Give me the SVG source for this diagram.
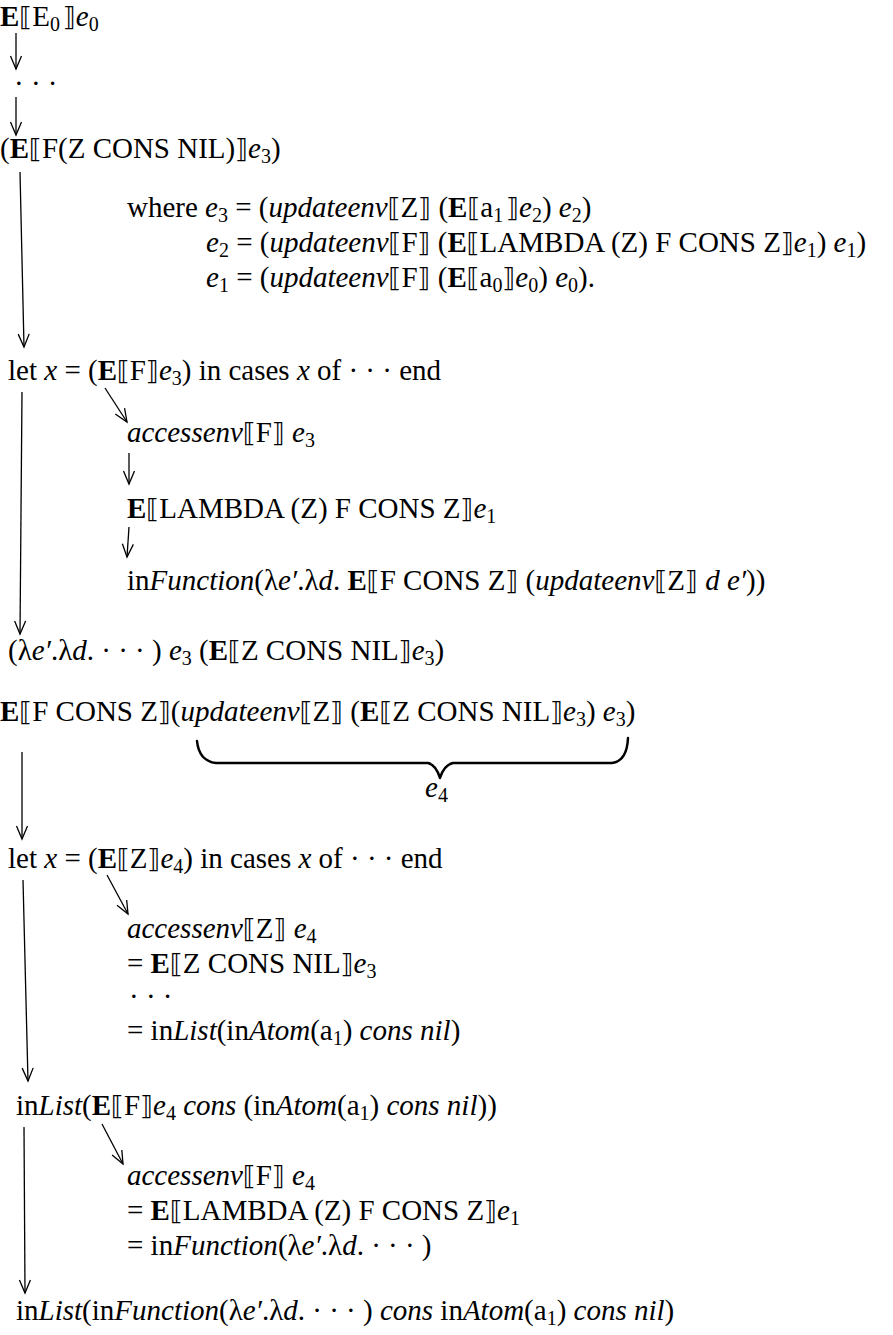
<svg xmlns="http://www.w3.org/2000/svg" width="893" height="1335" viewBox="0 0 893 1335">
<style>
text{font-family:"Liberation Serif","Times New Roman",serif;font-size:29px;fill:#000}
.b{font-weight:bold}
.i{font-style:italic}
.s{font-size:20px}
.k{font-family:"DejaVu Sans",sans-serif;font-size:26px;font-weight:normal;font-style:normal}
.ln{stroke:#000;stroke-width:1.3;fill:none}
.brace{stroke:#000;stroke-width:2.5;fill:none;stroke-linecap:round;stroke-linejoin:round}
</style>
<defs>
<marker id="ah" viewBox="-14 -7 16 14" refX="0" refY="0" markerWidth="16" markerHeight="14" markerUnits="userSpaceOnUse" orient="auto"><path d="M-13,-5.5 L0,0 L-13,5.5" fill="none" stroke="#000" stroke-width="1.3"/></marker>
</defs>
<rect width="893" height="1335" fill="#fff"/>

<g id="connectors">
<line class="ln" x1="16" y1="33" x2="16" y2="69" marker-end="url(#ah)"/>
<line class="ln" x1="16" y1="97" x2="16" y2="135" marker-end="url(#ah)"/>
<line class="ln" x1="20" y1="172" x2="24" y2="347" marker-end="url(#ah)"/>
<line class="ln" x1="105" y1="388" x2="127" y2="422" marker-end="url(#ah)"/>
<line class="ln" x1="129" y1="453" x2="129" y2="484" marker-end="url(#ah)"/>
<line class="ln" x1="129" y1="527" x2="127" y2="557" marker-end="url(#ah)"/>
<line class="ln" x1="22" y1="392" x2="20" y2="634" marker-end="url(#ah)"/>
<line class="ln" x1="22" y1="752" x2="22" y2="839" marker-end="url(#ah)"/>
<line class="ln" x1="107" y1="875" x2="128" y2="914" marker-end="url(#ah)"/>
<line class="ln" x1="23" y1="880" x2="28" y2="1081" marker-end="url(#ah)"/>
<line class="ln" x1="102" y1="1124" x2="123" y2="1164" marker-end="url(#ah)"/>
<line class="ln" x1="24" y1="1127" x2="25" y2="1293" marker-end="url(#ah)"/>
<path class="brace" d="M197,741 Q199,761 216,763 L428,763 Q436,765 440,778 Q444,765 453,763 L612,763 Q627,761 628,738"/>
</g>

<g id="n1"><text x="0" y="26"><tspan class="b">E</tspan><tspan class="k">⟦</tspan>E<tspan class="s" dy="5">0</tspan><tspan dy="-5" dx="3" class="k">⟧</tspan><tspan class="i">e</tspan><tspan class="s" dy="5">0</tspan></text></g>
<g id="n2"><text x="14" y="93">· · ·</text></g>
<g id="n3"><text x="0" y="158">(<tspan class="b">E</tspan><tspan class="k">⟦</tspan>F(Z CONS NIL)<tspan class="k">⟧</tspan><tspan class="i">e</tspan><tspan class="s" dy="5">3</tspan><tspan dy="-5">)</tspan></text></g>

<g id="where">
<text x="127" y="217">where <tspan class="i">e</tspan><tspan class="s" dy="5">3</tspan><tspan dy="-5"> = (</tspan><tspan class="i">updateenv</tspan><tspan class="k">⟦</tspan>Z<tspan class="k">⟧</tspan> (<tspan class="b">E</tspan><tspan class="k">⟦</tspan>a<tspan class="s" dy="5">1</tspan><tspan dy="-5" dx="3" class="k">⟧</tspan><tspan class="i">e</tspan><tspan class="s" dy="5">2</tspan><tspan dy="-5">) </tspan><tspan class="i">e</tspan><tspan class="s" dy="5">2</tspan><tspan dy="-5">)</tspan></text>
<text x="206" y="252"><tspan class="i">e</tspan><tspan class="s" dy="5">2</tspan><tspan dy="-5"> = (</tspan><tspan class="i">updateenv</tspan><tspan class="k">⟦</tspan>F<tspan class="k">⟧</tspan> (<tspan class="b">E</tspan><tspan class="k">⟦</tspan>LAMBDA (Z) F CONS Z<tspan class="k">⟧</tspan><tspan class="i">e</tspan><tspan class="s" dy="5">1</tspan><tspan dy="-5">) </tspan><tspan class="i">e</tspan><tspan class="s" dy="5">1</tspan><tspan dy="-5">)</tspan></text>
<text x="206" y="287"><tspan class="i">e</tspan><tspan class="s" dy="5">1</tspan><tspan dy="-5"> = (</tspan><tspan class="i">updateenv</tspan><tspan class="k">⟦</tspan>F<tspan class="k">⟧</tspan> (<tspan class="b">E</tspan><tspan class="k">⟦</tspan>a<tspan class="s" dy="5">0</tspan><tspan dy="-5" class="k">⟧</tspan><tspan class="i">e</tspan><tspan class="s" dy="5">0</tspan><tspan dy="-5">) </tspan><tspan class="i">e</tspan><tspan class="s" dy="5">0</tspan><tspan dy="-5">).</tspan></text>
</g>

<g id="n4"><text x="8" y="380">let <tspan class="i">x</tspan> = (<tspan class="b">E</tspan><tspan class="k">⟦</tspan>F<tspan class="k">⟧</tspan><tspan class="i">e</tspan><tspan class="s" dy="5">3</tspan><tspan dy="-5">) in cases </tspan><tspan class="i">x</tspan> of · · · end</text></g>
<g id="n5"><text x="127" y="442"><tspan class="i">accessenv</tspan><tspan class="k">⟦</tspan>F<tspan class="k">⟧</tspan> <tspan class="i">e</tspan><tspan class="s" dy="5">3</tspan></text></g>
<g id="n6"><text x="127" y="518"><tspan class="b">E</tspan><tspan class="k">⟦</tspan>LAMBDA (Z) F CONS Z<tspan class="k">⟧</tspan><tspan class="i">e</tspan><tspan class="s" dy="5">1</tspan></text></g>
<g id="n7"><text x="127" y="590">in<tspan class="i">Function</tspan>(λ<tspan class="i">e′</tspan>.λ<tspan class="i">d</tspan>. <tspan class="b">E</tspan><tspan class="k">⟦</tspan>F CONS Z<tspan class="k">⟧</tspan> (<tspan class="i">updateenv</tspan><tspan class="k">⟦</tspan>Z<tspan class="k">⟧</tspan> <tspan class="i">d e′</tspan>))</text></g>
<g id="n8"><text x="8" y="660">(λ<tspan class="i">e′</tspan>.λ<tspan class="i">d</tspan>. · · · ) <tspan class="i">e</tspan><tspan class="s" dy="5">3</tspan><tspan dy="-5"> (</tspan><tspan class="b">E</tspan><tspan class="k">⟦</tspan>Z CONS NIL<tspan class="k">⟧</tspan><tspan class="i">e</tspan><tspan class="s" dy="5">3</tspan><tspan dy="-5">)</tspan></text></g>
<g id="n9"><text x="0" y="721"><tspan class="b">E</tspan><tspan class="k">⟦</tspan>F CONS Z<tspan class="k">⟧</tspan>(<tspan class="i">updateenv</tspan><tspan class="k">⟦</tspan>Z<tspan class="k">⟧</tspan> (<tspan class="b">E</tspan><tspan class="k">⟦</tspan>Z CONS NIL<tspan class="k">⟧</tspan><tspan class="i">e</tspan><tspan class="s" dy="5">3</tspan><tspan dy="-5">) </tspan><tspan class="i">e</tspan><tspan class="s" dy="5">3</tspan><tspan dy="-5">)</tspan></text></g>
<g id="n10"><text x="425" y="797"><tspan class="i">e</tspan><tspan class="s" dy="5">4</tspan></text></g>
<g id="n11"><text x="8" y="868">let <tspan class="i">x</tspan> = (<tspan class="b">E</tspan><tspan class="k">⟦</tspan>Z<tspan class="k">⟧</tspan><tspan class="i">e</tspan><tspan class="s" dy="5">4</tspan><tspan dy="-5">) in cases </tspan><tspan class="i">x</tspan> of · · · end</text></g>
<g id="n12">
<text x="127" y="938"><tspan class="i">accessenv</tspan><tspan class="k">⟦</tspan>Z<tspan class="k">⟧</tspan> <tspan class="i">e</tspan><tspan class="s" dy="5">4</tspan></text>
<text x="127" y="973">= <tspan class="b">E</tspan><tspan class="k">⟦</tspan>Z CONS NIL<tspan class="k">⟧</tspan><tspan class="i">e</tspan><tspan class="s" dy="5">3</tspan></text>
<text x="129" y="1006">· · ·</text>
<text x="127" y="1040">= in<tspan class="i">List</tspan>(in<tspan class="i">Atom</tspan>(a<tspan class="s" dy="5">1</tspan><tspan dy="-5">) </tspan><tspan class="i">cons nil</tspan>)</text>
</g>
<g id="n13"><text x="16" y="1115">in<tspan class="i">List</tspan>(<tspan class="b">E</tspan><tspan class="k">⟦</tspan>F<tspan class="k">⟧</tspan><tspan class="i">e</tspan><tspan class="s" dy="5">4</tspan><tspan dy="-5"> </tspan><tspan class="i">cons</tspan> (in<tspan class="i">Atom</tspan>(a<tspan class="s" dy="5">1</tspan><tspan dy="-5">) </tspan><tspan class="i">cons nil</tspan>))</text></g>
<g id="n14">
<text x="127" y="1185"><tspan class="i">accessenv</tspan><tspan class="k">⟦</tspan>F<tspan class="k">⟧</tspan> <tspan class="i">e</tspan><tspan class="s" dy="5">4</tspan></text>
<text x="127" y="1220">= <tspan class="b">E</tspan><tspan class="k">⟦</tspan>LAMBDA (Z) F CONS Z<tspan class="k">⟧</tspan><tspan class="i">e</tspan><tspan class="s" dy="5">1</tspan></text>
<text x="127" y="1255">= in<tspan class="i">Function</tspan>(λ<tspan class="i">e′</tspan>.λ<tspan class="i">d</tspan>. · · · )</text>
</g>
<g id="n15"><text x="16" y="1320">in<tspan class="i">List</tspan>(in<tspan class="i">Function</tspan>(λ<tspan class="i">e′</tspan>.λ<tspan class="i">d</tspan>. · · · ) <tspan class="i">cons</tspan> in<tspan class="i">Atom</tspan>(a<tspan class="s" dy="5">1</tspan><tspan dy="-5">) </tspan><tspan class="i">cons nil</tspan>)</text></g>
</svg>
